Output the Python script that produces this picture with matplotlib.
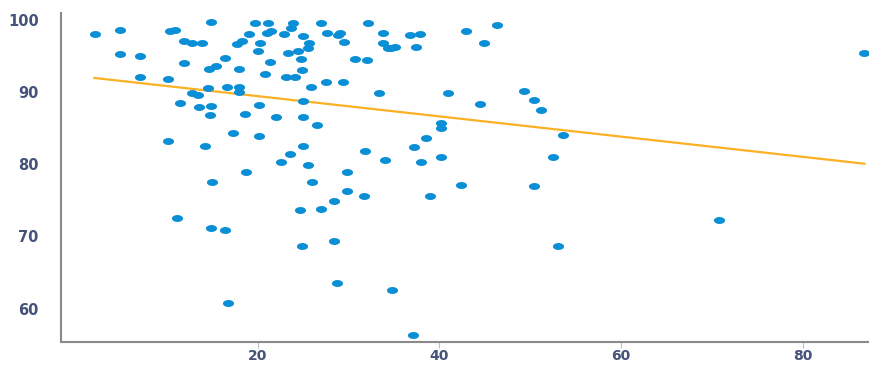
import matplotlib
matplotlib.use("Agg")
import matplotlib.pyplot as plt
import numpy as np
from matplotlib.path import Path

# điểm dữ liệu
x_vals = [2.1, 4.8, 4.8, 7.0, 7.0, 10.3, 10.9, 11.9, 12.7, 13.9, 14.8, 10.1, 11.9, 14.6, 15.4,
          16.4, 14.5, 16.6, 17.9, 17.9, 12.8, 13.4, 11.4, 13.5, 14.8, 14.7, 18.6, 20.1, 22.0,
          10.1, 14.2, 17.3, 20.1, 23.5, 22.5, 18.7, 15.0, 19.7, 21.1, 23.9, 23.7, 19.0, 21.0,
          21.5, 22.9, 18.2, 17.7, 20.2, 20.0, 23.3, 24.4, 17.9, 21.3, 20.8, 23.1, 24.1, 24.7,
          24.9, 26.9, 32.1, 25.0, 27.6, 28.8, 29.0, 33.8, 25.6, 25.5, 29.5, 33.8, 34.3, 30.7,
          32.0, 27.5, 29.4, 25.9, 25.0, 33.3, 25.0, 26.5, 36.7, 37.9, 42.9, 46.3, 34.7, 35.1,
          37.4, 44.9, 40.9, 44.5, 49.3, 50.4, 51.2, 40.2, 40.2, 38.5, 37.2, 40.2, 31.8, 34.0,
          38.0, 25.0, 25.5, 29.8, 52.5, 53.6, 86.7, 70.8, 53.1, 26.0, 29.8, 31.7, 28.4, 26.9,
          24.6, 16.4, 11.1, 14.8, 42.4, 50.4, 38.9, 24.9, 28.4, 28.7, 34.8, 37.1, 16.7]
y_vals = [98.1, 98.6, 95.3, 95.0, 92.1, 98.5, 98.6, 97.2, 96.8, 96.8, 99.8, 91.9, 94.1, 93.2, 93.6,
          94.8, 90.6, 90.8, 90.8, 90.1, 89.9, 89.7, 88.5, 88.0, 88.1, 86.9, 87.0, 88.2, 86.6,
          83.3, 82.6, 84.3, 84.0, 81.5, 80.3, 79.0, 77.5, 99.6, 99.7, 99.6, 98.9, 98.1, 98.3,
          98.5, 98.1, 97.1, 96.7, 96.8, 95.7, 95.4, 95.7, 93.2, 94.2, 92.5, 92.1, 92.1, 94.6,
          93.1, 99.7, 99.7, 97.8, 98.3, 97.9, 98.2, 98.2, 96.8, 96.1, 97.0, 96.8, 96.1, 94.6,
          94.5, 91.4, 91.4, 90.8, 88.8, 89.9, 86.6, 85.5, 97.9, 98.1, 98.5, 99.4, 96.1, 96.3,
          96.3, 96.8, 89.9, 88.4, 90.2, 89.0, 87.6, 85.7, 85.1, 83.7, 82.4, 81.1, 81.9, 80.6,
          80.4, 82.6, 79.9, 79.0, 81.1, 84.1, 95.4, 72.3, 68.7, 77.5, 76.3, 75.6, 74.9, 73.8,
          73.7, 70.9, 72.5, 71.2, 77.1, 77.0, 75.6, 68.7, 69.4, 63.6, 62.6, 56.3, 60.7]

trend_x = [2.0, 86.8]
trend_y = [92.0, 80.1]

xticks = [20, 40, 60, 80]
yticks = [60, 70, 80, 90, 100]

# marker hình elip (ảnh gốc bị kéo giãn ngang)
t = np.linspace(0, 2 * np.pi, 40)
ellipse = Path(np.column_stack([1.6 * np.cos(t), np.sin(t)]), closed=True)

fig = plt.figure(figsize=(8.69, 3.65), dpi=100)
ax = fig.add_axes([0.070, 0.062, 0.930, 0.902])

ax.scatter(x_vals, y_vals, s=64, marker=ellipse, color="#0a8fd6", linewidths=0, zorder=3)
ax.plot(trend_x, trend_y, color="#fbb123", lw=1.6, zorder=2)

ax.set_xlim(-1.7, 87.3)
ax.set_ylim(55.3, 101)
ax.set_xticks(xticks)
ax.set_yticks(yticks)

for s in ["top", "right"]:
    ax.spines[s].set_visible(False)
for s in ["left", "bottom"]:
    ax.spines[s].set_color("#8a8a8a")
    ax.spines[s].set_linewidth(1.5)

ax.tick_params(axis="y", length=0, pad=16, labelsize=10.5, labelcolor="#45527a")
ax.tick_params(axis="x", length=4, color="#c0c0c0", pad=1, labelsize=10, labelcolor="#45527a")
for lbl in ax.get_xticklabels() + ax.get_yticklabels():
    lbl.set_fontweight("bold")

fig.savefig("out.png", dpi=100)
